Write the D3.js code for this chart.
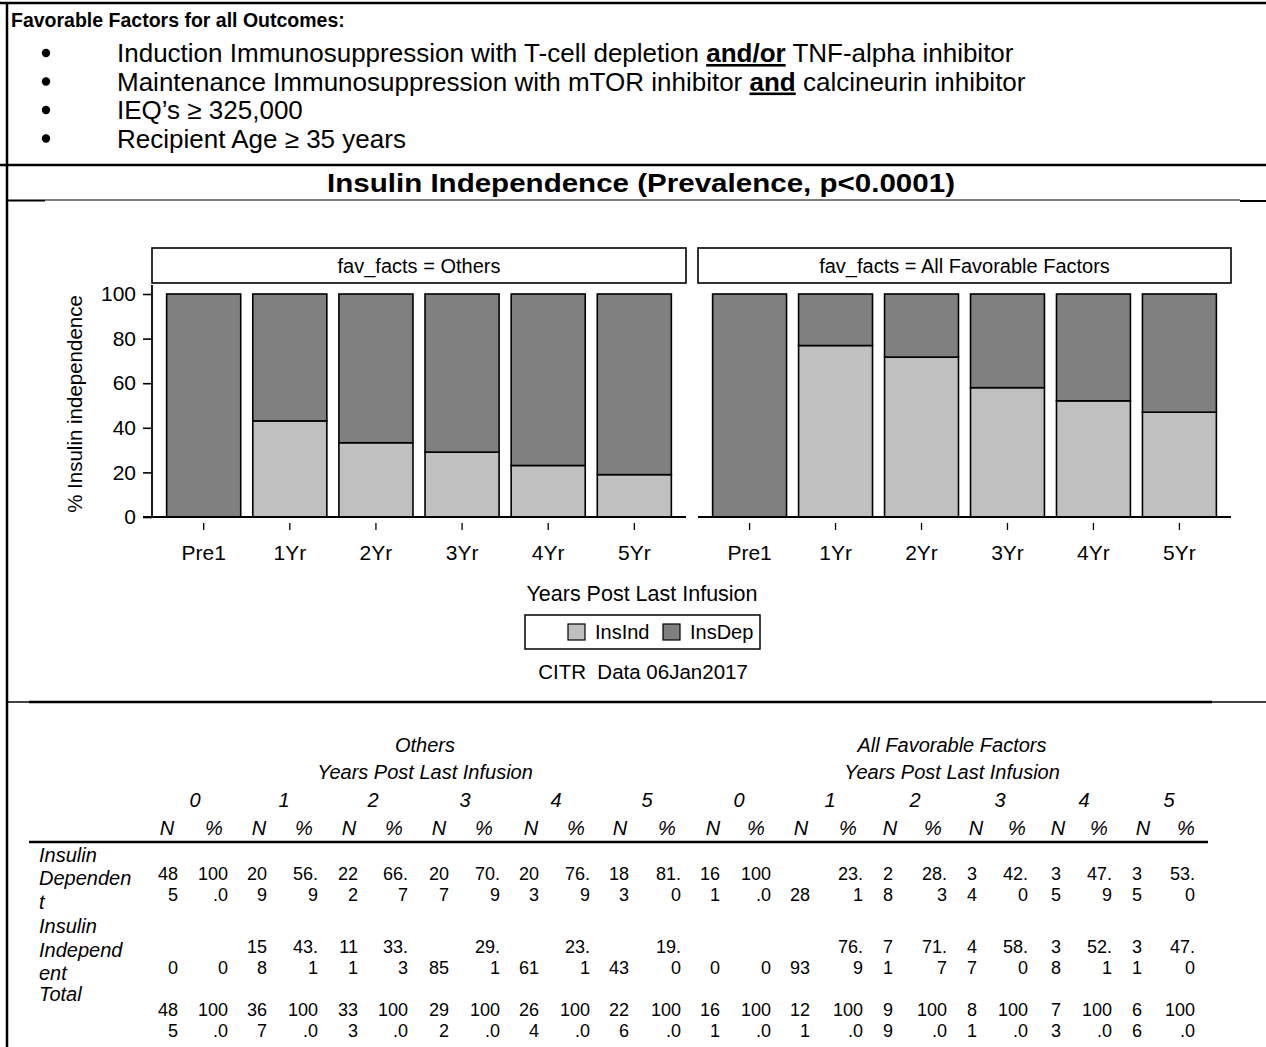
<!DOCTYPE html>
<html><head><meta charset="utf-8">
<script src="https://cdn.jsdelivr.net/npm/d3@7"></script>
<style>
body{margin:0;background:#fff}
svg{display:block}
text{font-family:"Liberation Sans",Arial,sans-serif;fill:#000}
</style>
</head><body>
<svg id="c" width="1266" height="1047"></svg>
<script>
// ---------------- DATA ----------------
const categories = ["Pre1","1Yr","2Yr","3Yr","4Yr","5Yr"];
const yearLabels = ["0","1","2","3","4","5"];
const groupNames = ["Others","All Favorable Factors"];
const panelLabels = ["fav_facts = Others","fav_facts = All Favorable Factors"];
const seriesKeys = ["InsInd","InsDep"];
const yTicks = [0,20,40,60,80,100];
const rowLabels = [["Insulin","Dependen","t"],["Insulin","Independ","ent"],["Total"]];

const othersDepN   = [485,209,222,207,203,183];
const othersDepPct = [100.0,56.9,66.7,70.9,76.9,81.0];
const othersIndN   = [0,158,111,85,61,43];
const othersIndPct = [0,43.1,33.3,29.1,23.1,19.0];
const othersTotN   = [485,367,333,292,264,226];
const othersTotPct = [100.0,100.0,100.0,100.0,100.0,100.0];

const favDepN   = [161,28,28,34,35,35];
const favDepPct = [100.0,23.1,28.3,42.0,47.9,53.0];
const favIndN   = [0,93,71,47,38,31];
const favIndPct = [0,76.9,71.7,58.0,52.1,47.0];
const favTotN   = [161,121,99,81,73,66];
const favTotPct = [100.0,100.0,100.0,100.0,100.0,100.0];

const bulletHeader = "Favorable Factors for all Outcomes:";
const chartTitle = "Insulin Independence (Prevalence, p<0.0001)";
const xTitle = "Years Post Last Infusion";
const yTitle = "% Insulin independence";
const footnote = "CITR  Data 06Jan2017";

// ---------------- LAYOUT ----------------
const svg = d3.select("#c");
const FONT = "'Liberation Sans', Arial, sans-serif";
const colors = {InsInd:"#C0C0C0", InsDep:"#808080"};

// frame lines
const hLine = (x1,x2,yy,w)=>svg.append("line").attr("x1",x1).attr("x2",x2).attr("y1",yy).attr("y2",yy).attr("stroke","#000").attr("stroke-width",w);
hLine(0,1266,3,2.5);
hLine(0,1266,165,2.5);
hLine(45,1240,200,1);
hLine(7,45,200.5,2);
hLine(1240,1266,201,2);
hLine(7,29,702,1.5);
hLine(29,1212,702,2.5);
hLine(1212,1266,702,1.5);
svg.append("line").attr("x1",7).attr("x2",7).attr("y1",2).attr("y2",1047).attr("stroke","#000").attr("stroke-width",2.5);

// header bullets
svg.append("text").attr("x",11).attr("y",27).attr("font-weight","bold").attr("font-size",19.5).text(bulletHeader);

const bullets = [
  [["Induction Immunosuppression with T-cell depletion ",false],["and/or",true],[" TNF-alpha inhibitor",false]],
  [["Maintenance Immunosuppression with mTOR inhibitor ",false],["and",true],[" calcineurin inhibitor",false]],
  [["IEQ\u2019s \u2265 325,000",false]],
  [["Recipient Age \u2265 35 years",false]]
];
bullets.forEach((parts,i)=>{
  const by = 62 + i*28.5;
  svg.append("circle").attr("cx",46).attr("cy",by-9).attr("r",4.2).attr("fill","#000");
  const t = svg.append("text").attr("x",117).attr("y",by).attr("font-size",26).attr("xml:space","preserve");
  parts.forEach(([s,b])=>{
    const ts = t.append("tspan").text(s);
    if(b) ts.attr("font-weight","bold").attr("text-decoration","underline");
  });
});

// title
svg.append("text").attr("x",641).attr("y",192).attr("text-anchor","middle").attr("font-weight","bold").attr("font-size",26)
  .attr("textLength",628).attr("lengthAdjust","spacingAndGlyphs").text(chartTitle);

// ---------------- CHART ----------------
const plotTop = 294, plotBottom = 517;
const y = d3.scaleLinear().domain([0,100]).range([plotBottom, plotTop]);
const panelRanges = [[152,686],[698,1231]];
const indPct = [othersIndPct, favIndPct];
const depPct = [othersDepPct, favDepPct];

panelRanges.forEach((rg,i)=>{
  const g = svg.append("g");
  const x = d3.scaleBand().domain(categories).range(rg).paddingInner(0.14).paddingOuter(0.17);
  // header box
  g.append("rect").attr("x",rg[0]).attr("y",248).attr("width",rg[1]-rg[0]).attr("height",35)
    .attr("fill","#fff").attr("stroke","#000").attr("stroke-width",1.6);
  g.append("text").attr("x",(rg[0]+rg[1])/2).attr("y",265.5).attr("text-anchor","middle")
    .attr("dominant-baseline","central").attr("font-size",20).text(panelLabels[i]);
  // stacked bars
  const rows = categories.map((c,j)=>({cat:c, InsInd:indPct[i][j], InsDep:depPct[i][j]}));
  const stacked = d3.stack().keys(seriesKeys)(rows);
  g.selectAll("g.layer").data(stacked).join("g").attr("class","layer")
    .attr("fill",d=>colors[d.key])
    .selectAll("rect").data(d=>d.filter(v=>v[1]-v[0]>0)).join("rect")
    .attr("x",d=>x(d.data.cat)).attr("y",d=>y(d[1]))
    .attr("width",x.bandwidth()).attr("height",d=>y(d[0])-y(d[1]))
    .attr("stroke","#000").attr("stroke-width",1.6);
  // baseline
  g.append("line").attr("x1", i===0 ? rg[0]-9 : rg[0]).attr("x2",rg[1])
    .attr("y1",plotBottom).attr("y2",plotBottom).attr("stroke","#000").attr("stroke-width",2.2);
  // x axis ticks
  const xa = g.append("g").attr("transform",`translate(0,${plotBottom+6})`)
    .call(d3.axisBottom(x).tickSizeInner(7).tickSizeOuter(0).tickPadding(15));
  xa.select(".domain").remove();
  xa.selectAll("line").attr("stroke","#000").attr("stroke-width",1.3);
  xa.selectAll("text").attr("font-family",FONT).attr("font-size",21).attr("fill","#000");
  if(i===0){
    const ya = g.append("g").attr("transform",`translate(${rg[0]},0)`)
      .call(d3.axisLeft(y).tickValues(yTicks).tickSizeInner(9).tickSizeOuter(0).tickPadding(7));
    ya.select(".domain").remove();
    ya.selectAll("line").attr("stroke","#000").attr("stroke-width",1.6);
    ya.selectAll("text").attr("font-family",FONT).attr("font-size",21).attr("fill","#000");
    g.append("line").attr("x1",rg[0]).attr("x2",rg[0]).attr("y1",285).attr("y2",plotBottom)
      .attr("stroke","#000").attr("stroke-width",1.8);
  }
});

// axis titles
svg.append("text").attr("transform",`translate(74,404) rotate(-90)`).attr("text-anchor","middle")
  .attr("dominant-baseline","central").attr("font-size",20.5).text(yTitle);
svg.append("text").attr("x",642).attr("y",594).attr("text-anchor","middle")
  .attr("dominant-baseline","central").attr("font-size",21.5).text(xTitle);

// legend
const lg = svg.append("g");
lg.append("rect").attr("x",525).attr("y",615).attr("width",235).attr("height",34)
  .attr("fill","#fff").attr("stroke","#000").attr("stroke-width",1.5);
const legendX = [568, 663];
seriesKeys.forEach((k,i)=>{
  lg.append("rect").attr("x",legendX[i]).attr("y",624).attr("width",17).attr("height",16)
    .attr("fill",colors[k]).attr("stroke","#000").attr("stroke-width",1.2);
  lg.append("text").attr("x",legendX[i]+27).attr("y",632).attr("dominant-baseline","central")
    .attr("font-size",20).text(k);
});
svg.append("text").attr("x",643).attr("y",671).attr("text-anchor","middle").attr("dominant-baseline","central")
  .attr("font-size",20.5).attr("xml:space","preserve").text(footnote);

// ---------------- TABLE ----------------
const tbl = svg.append("g");
const groupCenters = [425, 952];
groupNames.forEach((gname,i)=>{
  tbl.append("text").attr("x",groupCenters[i]).attr("y",745).attr("text-anchor","middle")
    .attr("dominant-baseline","central").attr("font-style","italic").attr("font-size",20).text(gname);
  tbl.append("text").attr("x",groupCenters[i]).attr("y",772).attr("text-anchor","middle")
    .attr("dominant-baseline","central").attr("font-style","italic").attr("font-size",20).text(xTitle);
});
// column geometry (N, % per year per group)
const yearCenters = [195,284,373,465,556,647, 739,830,915,1000,1084,1169];
const headCenters = [167,214,259,304,349,394,439,484,531,576,620,667, 713,756,801,848,890,933,976,1017,1058,1099,1143,1186];
const colRight    = [178,228,267,318,358,408,449,500,539,590,629,681, 720,771,810,863,893,947,977,1028,1061,1112,1142,1195];
const maxChars    = [2,3,2,3,2,3,2,3,2,3,2,3, 2,3,2,3,1,3,1,3,1,3,1,3];

yearCenters.forEach((cx,i)=>{
  tbl.append("text").attr("x",cx).attr("y",800).attr("text-anchor","middle").attr("dominant-baseline","central")
    .attr("font-style","italic").attr("font-size",20).text(yearLabels[i%6]);
});
headCenters.forEach((cx,i)=>{
  tbl.append("text").attr("x",cx).attr("y",828).attr("text-anchor","middle").attr("dominant-baseline","central")
    .attr("font-style","italic").attr("font-size",20).text(i%2===0 ? "N" : "%");
});
tbl.append("line").attr("x1",29).attr("x2",1208).attr("y1",842).attr("y2",842).attr("stroke","#000").attr("stroke-width",2.5);

const rowLabelY = [[855,878,902],[926,950,973],[994]];
rowLabels.forEach((lines,r)=>{
  lines.forEach((s,k)=>{
    tbl.append("text").attr("x",39).attr("y",rowLabelY[r][k]).attr("dominant-baseline","central")
      .attr("font-style","italic").attr("font-size",20).text(s);
  });
});

const fmtPct = v => v===0 ? "0" : v.toFixed(1);
const tableRows = [
  [othersDepN, othersDepPct, favDepN, favDepPct],
  [othersIndN, othersIndPct, favIndN, favIndPct],
  [othersTotN, othersTotPct, favTotN, favTotPct]
];
const rowValueY = [[874,895],[947,968],[1010,1031]];
tableRows.forEach((row,r)=>{
  const cells = [];
  for(let gi=0; gi<2; gi++){
    const nArr = row[gi*2], pArr = row[gi*2+1];
    for(let j=0;j<6;j++){ cells.push(String(nArr[j])); cells.push(fmtPct(pArr[j])); }
  }
  cells.forEach((s,c)=>{
    const m = maxChars[c];
    const chunks = [];
    for(let p=0;p<s.length;p+=m) chunks.push(s.slice(p,p+m));
    const lines = chunks.length===1 ? [null, chunks[0]] : chunks;
    lines.forEach((ln,k)=>{
      if(ln===null) return;
      tbl.append("text").attr("x",colRight[c]).attr("y",rowValueY[r][k]).attr("text-anchor","end")
        .attr("dominant-baseline","central").attr("font-size",18).text(ln);
    });
  });
});
</script>
</body></html>
